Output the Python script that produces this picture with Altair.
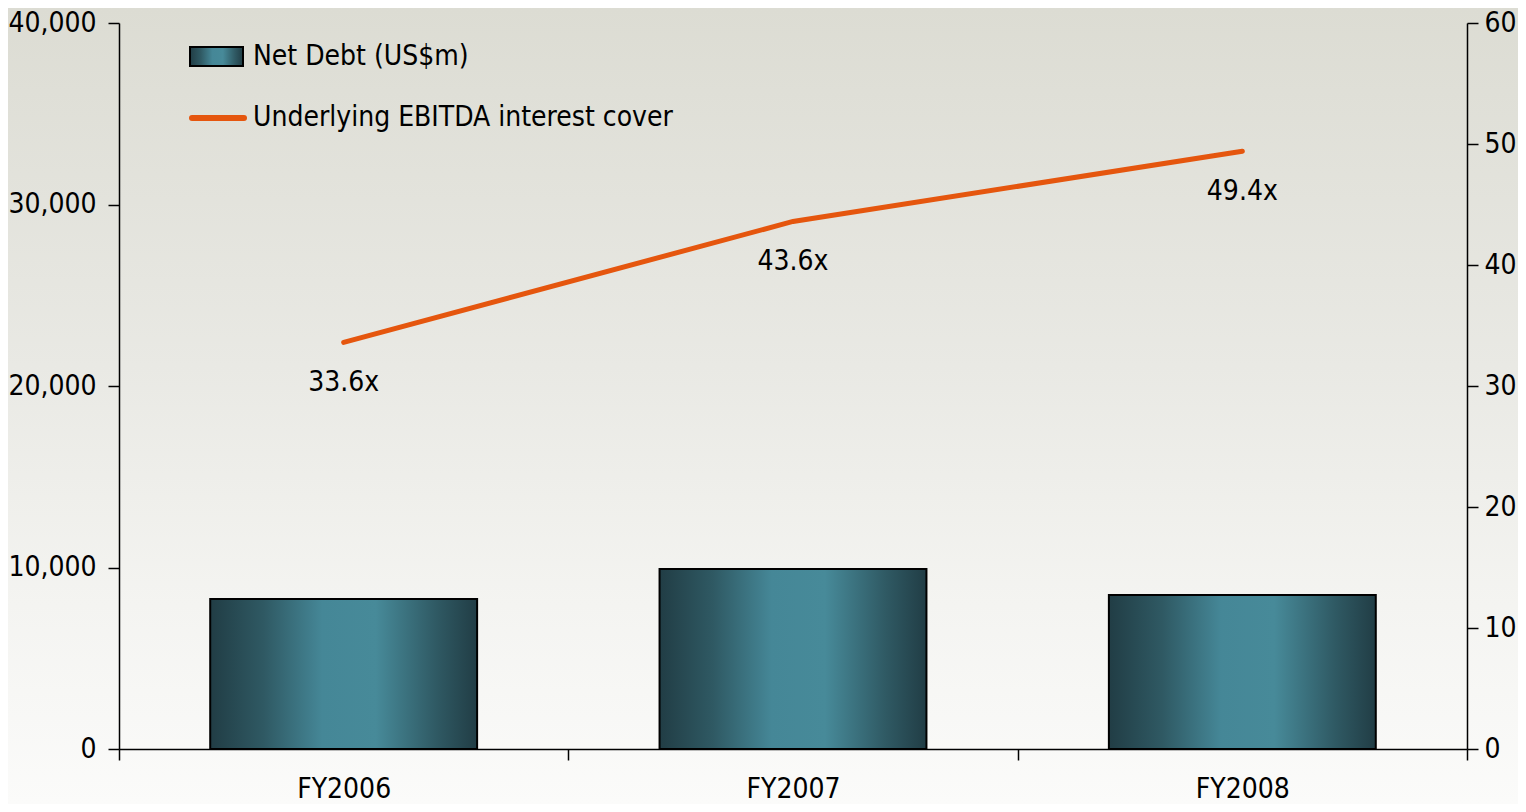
import altair as alt
import pandas as pd

years = ["FY2006", "FY2007", "FY2008"]
net_debt = [8260, 9920, 8480]
cover = [33.6, 43.6, 49.4]
cover_labels = ["33.6x", "43.6x", "49.4x"]
debt_ticks = [0, 10000, 20000, 30000, 40000]
cover_ticks = [0, 10, 20, 30, 40, 50, 60]
legend_names = ["Net Debt (US$m)", "Underlying EBITDA interest cover"]

FONT = "Liberation Sans Narrow, Arial Narrow, DejaVu Sans Condensed, sans-serif"
FS = 28
W, H = 1348, 726
ORANGE = "#E5560E"

df = pd.DataFrame({"year": years, "debt": net_debt, "cover": cover, "label": cover_labels})
one = pd.DataFrame({"k": [0]})

bar_grad = alt.LinearGradient(
    gradient="linear", x1=0, y1=0, x2=1, y2=0,
    stops=[
        alt.GradientStop(offset=0.0, color="#213d45"),
        alt.GradientStop(offset=0.2, color="#2f5963"),
        alt.GradientStop(offset=0.42, color="#458797"),
        alt.GradientStop(offset=0.62, color="#478a99"),
        alt.GradientStop(offset=0.85, color="#2f5963"),
        alt.GradientStop(offset=1.0, color="#213d45"),
    ],
)
bg_grad = alt.LinearGradient(
    gradient="linear", x1=0, y1=0, x2=0, y2=1,
    stops=[
        alt.GradientStop(offset=0.0, color="#dcdcd3"),
        alt.GradientStop(offset=0.45, color="#e9e9e4"),
        alt.GradientStop(offset=0.75, color="#f4f4f1"),
        alt.GradientStop(offset=1.0, color="#fbfbfa"),
    ],
)

xenc = alt.X(
    "year:N", sort=years, title=None,
    scale=alt.Scale(paddingInner=0, paddingOuter=0),
    axis=alt.Axis(tickBand="extent", labelAngle=0, labelPadding=15, labelBaseline="top", zindex=2),
)

bg = alt.Chart(one).mark_rect(fill=bg_grad, clip=False).encode(
    x=alt.value(-111), x2=alt.value(W + 51), y=alt.value(-15), y2=alt.value(H + 55)
)

bars = alt.Chart(df).mark_bar(
    fill=bar_grad, stroke="black", strokeWidth=2, width=alt.RelativeBandSize(0.594)
).encode(
    x=xenc,
    y=alt.Y("debt:Q", title=None,
            scale=alt.Scale(domain=[0, 40000], nice=False),
            axis=alt.Axis(orient="left", values=debt_ticks,
                          labelExpr="format(datum.value, ',')", labelPadding=12, zindex=2)),
)

line = alt.Chart(df).mark_line(color=ORANGE, strokeWidth=5, strokeCap="round").encode(
    x=xenc,
    y=alt.Y("cover:Q", title=None,
            scale=alt.Scale(domain=[0, 60], nice=False),
            axis=alt.Axis(orient="right", values=cover_ticks,
                          labelExpr="format(datum.value, 'd')", labelPadding=6, zindex=2)),
)

labels = alt.Chart(df).mark_text(
    fontSize=FS, font=FONT, color="black", dy=41, baseline="middle"
).encode(
    x=xenc,
    y=alt.Y("cover:Q", scale=alt.Scale(domain=[0, 60], nice=False), axis=None),
    text="label:N",
)

leg_rect = alt.Chart(one).mark_rect(fill=bar_grad, stroke="black", strokeWidth=2).encode(
    x=alt.value(71), x2=alt.value(124), y=alt.value(24), y2=alt.value(43)
)
leg_line = alt.Chart(one).mark_rule(color=ORANGE, strokeWidth=6, strokeCap="round").encode(
    x=alt.value(73), x2=alt.value(125), y=alt.value(95)
)
leg_t1 = alt.Chart(one).mark_text(
    fontSize=FS, font=FONT, color="black", align="left", baseline="middle"
).encode(x=alt.value(134), y=alt.value(34), text=alt.value(legend_names[0]))
leg_t2 = alt.Chart(one).mark_text(
    fontSize=FS, font=FONT, color="black", align="left", baseline="middle"
).encode(x=alt.value(134), y=alt.value(95), text=alt.value(legend_names[1]))

chart = alt.layer(
    bg, bars, line, labels, leg_rect, leg_line, leg_t1, leg_t2
).resolve_scale(y="independent").properties(
    width=W, height=H,
    padding={"left": 111, "top": 15, "right": 51, "bottom": 55},
    autosize=alt.AutoSizeParams(type="none"),
).configure_view(stroke=None).configure_axis(
    grid=False, domainColor="black", domainWidth=1.5, tickColor="black",
    tickWidth=1.5, tickSize=11, labelFont=FONT, labelFontSize=FS, labelColor="black",
)

chart.save("out.html", embed_options={"renderer": "svg", "actions": False})
